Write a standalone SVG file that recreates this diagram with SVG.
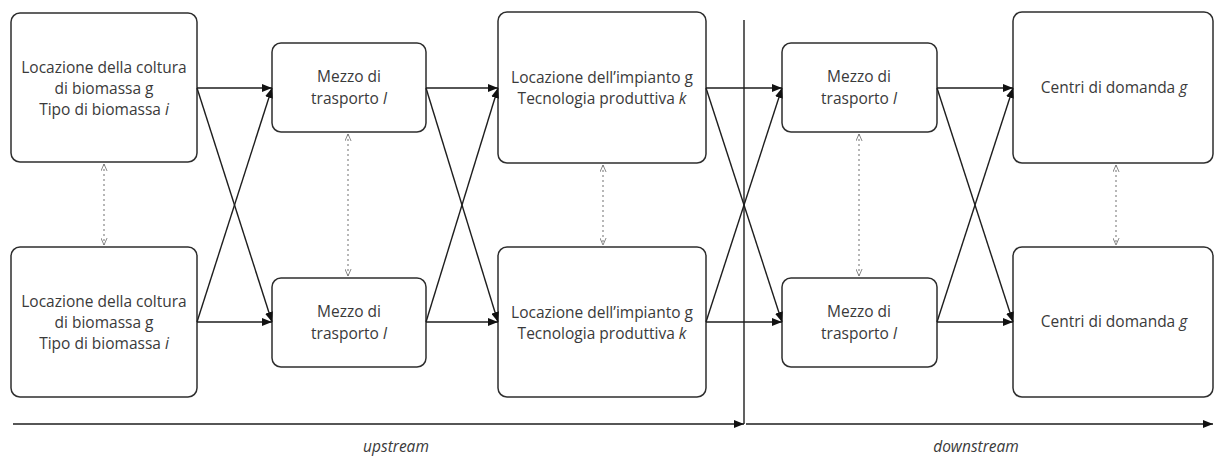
<svg xmlns="http://www.w3.org/2000/svg" width="1215" height="457" viewBox="0 0 1215 457">
  <defs>
    <marker id="arrow" viewBox="0 0 10 8" refX="10" refY="4" markerWidth="10" markerHeight="8" markerUnits="userSpaceOnUse" orient="auto">
      <path d="M0,0 L10,4 L0,8 Z" fill="#111"/>
    </marker>
    <marker id="chev" viewBox="0 0 10 8" refX="9" refY="4" markerWidth="9" markerHeight="7" markerUnits="userSpaceOnUse" orient="auto-start-reverse">
      <path d="M1,0.5 L9,4 L1,7.5" fill="none" stroke="#777" stroke-width="1"/>
    </marker>
  </defs>
  <style>
    .box { fill: #ffffff; stroke: #2e2e2e; stroke-width: 1.5; }
    .lbl { font-family: "Open Sans", "Noto Sans", sans-serif; font-size: 15.5px; fill: #3a3a3a; text-anchor: middle; }
    .it { font-style: italic; }
    .link { fill: none; stroke: #1e1e1e; stroke-width: 1.4; marker-end: url(#arrow); }
    .alt { fill: none; stroke: #888888; stroke-width: 1.2; stroke-dasharray: 2 3; marker-start: url(#chev); marker-end: url(#chev); }
    .axis { fill: none; stroke: #1e1e1e; stroke-width: 1.4; }
  </style>
  <rect width="1215" height="457" fill="#ffffff"/>

  <!-- upstream: crop locations -->
  <g id="coltura-1">
    <rect class="box" x="11" y="13" width="186" height="149" rx="9"/>
    <text class="lbl" x="104" y="73">Locazione della coltura</text>
    <text class="lbl" x="104" y="94">di biomassa g</text>
    <text class="lbl" x="104" y="115">Tipo di biomassa <tspan class="it">i</tspan></text>
  </g>
  <g id="coltura-2">
    <rect class="box" x="11" y="247" width="186" height="150" rx="9"/>
    <text class="lbl" x="104" y="307">Locazione della coltura</text>
    <text class="lbl" x="104" y="328">di biomassa g</text>
    <text class="lbl" x="104" y="349">Tipo di biomassa <tspan class="it">i</tspan></text>
  </g>

  <!-- upstream transport -->
  <g id="trasporto-up-1">
    <rect class="box" x="272" y="43" width="154" height="89" rx="9"/>
    <text class="lbl" x="349" y="82">Mezzo di</text>
    <text class="lbl" x="349" y="104">trasporto <tspan class="it">l</tspan></text>
  </g>
  <g id="trasporto-up-2">
    <rect class="box" x="272" y="278" width="154" height="89" rx="9"/>
    <text class="lbl" x="349" y="317">Mezzo di</text>
    <text class="lbl" x="349" y="339">trasporto <tspan class="it">l</tspan></text>
  </g>

  <!-- plants -->
  <g id="impianto-1">
    <rect class="box" x="498" y="12" width="208" height="151" rx="9"/>
    <text class="lbl" x="602" y="83">Locazione dell’impianto g</text>
    <text class="lbl" x="602" y="104">Tecnologia produttiva <tspan class="it">k</tspan></text>
  </g>
  <g id="impianto-2">
    <rect class="box" x="498" y="247" width="208" height="150" rx="9"/>
    <text class="lbl" x="602" y="318">Locazione dell’impianto g</text>
    <text class="lbl" x="602" y="339">Tecnologia produttiva <tspan class="it">k</tspan></text>
  </g>

  <!-- downstream transport -->
  <g id="trasporto-down-1">
    <rect class="box" x="782" y="43" width="155" height="89" rx="9"/>
    <text class="lbl" x="859" y="82">Mezzo di</text>
    <text class="lbl" x="859" y="104">trasporto <tspan class="it">l</tspan></text>
  </g>
  <g id="trasporto-down-2">
    <rect class="box" x="782" y="278" width="155" height="89" rx="9"/>
    <text class="lbl" x="859" y="317">Mezzo di</text>
    <text class="lbl" x="859" y="339">trasporto <tspan class="it">l</tspan></text>
  </g>

  <!-- demand centres -->
  <g id="domanda-1">
    <rect class="box" x="1013" y="12" width="200" height="151" rx="9"/>
    <text class="lbl" x="1114" y="93">Centri di domanda <tspan class="it">g</tspan></text>
  </g>
  <g id="domanda-2">
    <rect class="box" x="1013" y="247" width="200" height="150" rx="9"/>
    <text class="lbl" x="1114" y="327">Centri di domanda <tspan class="it">g</tspan></text>
  </g>

  <g id="connectors">
    <!-- crop -> transport -->
    <line class="link" x1="197" y1="88" x2="272" y2="88"/>
    <line class="link" x1="197" y1="88" x2="272" y2="322"/>
    <line class="link" x1="197" y1="322" x2="272" y2="88"/>
    <line class="link" x1="197" y1="322" x2="272" y2="322"/>
    <!-- transport -> plant -->
    <line class="link" x1="426" y1="88" x2="498" y2="88"/>
    <line class="link" x1="426" y1="88" x2="498" y2="322"/>
    <line class="link" x1="426" y1="322" x2="498" y2="88"/>
    <line class="link" x1="426" y1="322" x2="498" y2="322"/>
    <!-- plant -> transport -->
    <line class="link" x1="706" y1="88" x2="782" y2="88"/>
    <line class="link" x1="706" y1="88" x2="782" y2="322"/>
    <line class="link" x1="706" y1="322" x2="782" y2="88"/>
    <line class="link" x1="706" y1="322" x2="782" y2="322"/>
    <!-- transport -> demand -->
    <line class="link" x1="937" y1="88" x2="1013" y2="88"/>
    <line class="link" x1="937" y1="88" x2="1013" y2="322"/>
    <line class="link" x1="937" y1="322" x2="1013" y2="88"/>
    <line class="link" x1="937" y1="322" x2="1013" y2="322"/>

    <!-- alternatives within a stage -->
    <line class="alt" x1="104" y1="164" x2="104" y2="245"/>
    <line class="alt" x1="348" y1="134" x2="348" y2="276"/>
    <line class="alt" x1="603" y1="165" x2="603" y2="245"/>
    <line class="alt" x1="859" y1="134" x2="859" y2="276"/>
    <line class="alt" x1="1116" y1="165" x2="1116" y2="245"/>

    <!-- stage divider and flow axis -->
    <line class="axis" x1="744" y1="20" x2="744" y2="424"/>
    <line class="link" x1="13" y1="424" x2="744" y2="424"/>
    <line class="link" x1="746" y1="424" x2="1213" y2="424"/>
  </g>

  <text class="lbl it" x="396" y="452">upstream</text>
  <text class="lbl it" x="976" y="452">downstream</text>
</svg>
